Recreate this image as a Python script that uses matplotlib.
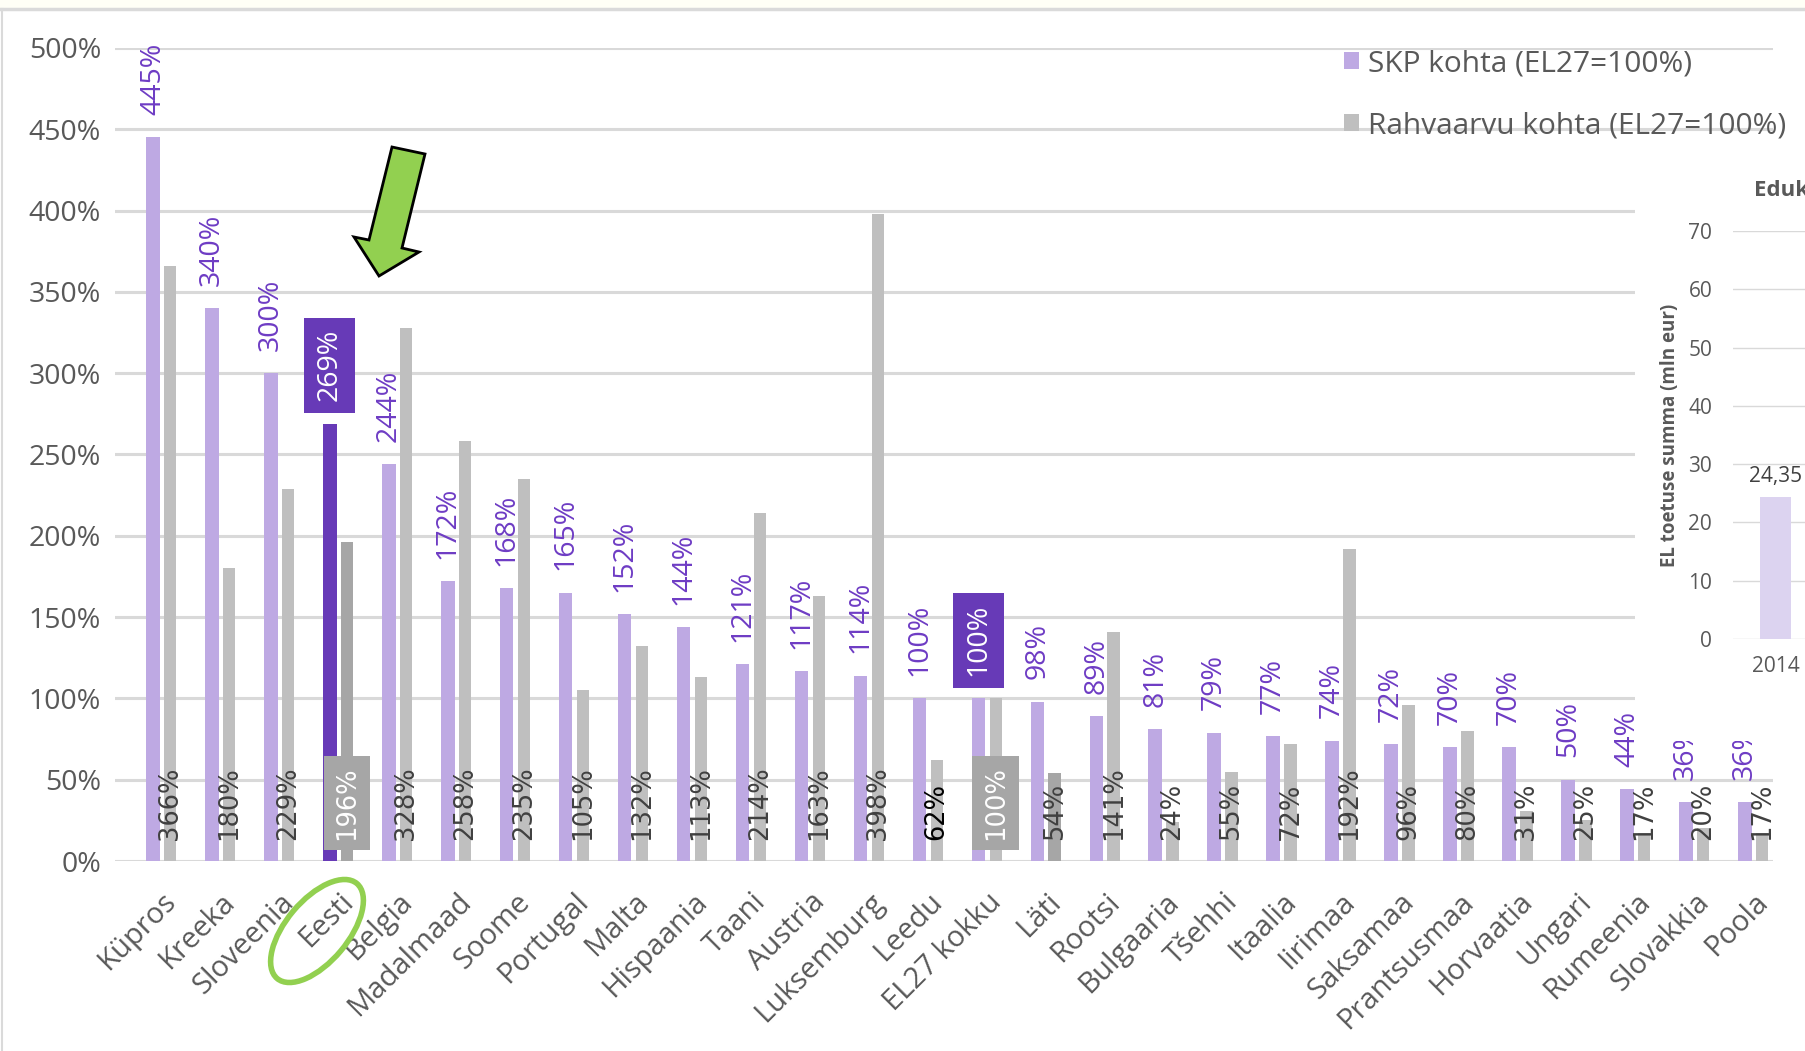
import numpy as np
import matplotlib.pyplot as plt
from matplotlib.patches import Rectangle, Polygon, Ellipse
from matplotlib.lines import Line2D
from matplotlib.transforms import IdentityTransform

plt.rcParams['font.family'] = ['Open Sans', 'DejaVu Sans']

# data
countries = ['Küpros', 'Kreeka', 'Sloveenia', 'Eesti', 'Belgia', 'Madalmaad', 'Soome',
             'Portugal', 'Malta', 'Hispaania', 'Taani', 'Austria', 'Luksemburg', 'Leedu',
             'EL27 kokku', 'Läti', 'Rootsi', 'Bulgaaria', 'Tšehhi', 'Itaalia', 'Iirimaa',
             'Saksamaa', 'Prantsusmaa', 'Horvaatia', 'Ungari', 'Rumeenia', 'Slovakkia', 'Poola']
skp_kohta = [445, 340, 300, 269, 244, 172, 168, 165, 152, 144, 121, 117, 114, 100,
             100, 98, 89, 81, 79, 77, 74, 72, 70, 70, 50, 44, 36, 36]
rahvaarvu_kohta = [366, 180, 229, 196, 328, 258, 235, 105, 132, 113, 214, 163, 398, 62,
                   100, 54, 141, 24, 55, 72, 192, 96, 80, 31, 25, 17, 20, 17]
series_names = ['SKP kohta (EL27=100%)', 'Rahvaarvu kohta (EL27=100%)']

inset_years = ['2014']
inset_values = [24.35]

# colours
c_skp = '#BEA9E3'
c_rahv = '#BFBFBF'
c_dark_purple = '#673AB7'
c_dark_gray = '#A6A6A6'
c_purple_text = '#6E3CC4'
c_text = '#595959'

W, H = 1805, 1051
fig = plt.figure(figsize=(W / 100, H / 100), dpi=100)
fig.patch.set_facecolor('white')

ax = fig.add_axes([115 / W, (H - 861) / H, (1773 - 115) / W, (861 - 48) / H])
x = np.arange(len(countries))
off, bw = 0.147, 0.23

skp_colors = [c_dark_purple if c == 'Eesti' else c_skp for c in countries]
rahv_colors = [c_dark_gray if c in ('Eesti', 'Läti') else c_rahv for c in countries]
ax.bar(x - off, skp_kohta, bw, color=skp_colors, zorder=2)
ax.bar(x + off, rahvaarvu_kohta, 0.21, color=rahv_colors, zorder=2)

boxed = ('Eesti', 'EL27 kokku')
for i, c in enumerate(countries):
    if c in boxed:
        ax.annotate(f'{skp_kohta[i]}%', (x[i] - off, skp_kohta[i]), xytext=(0, 16),
                    textcoords='offset points', rotation=90, ha='center', va='bottom',
                    fontsize=20.5, color='white', zorder=4,
                    bbox=dict(boxstyle='square,pad=0.4', fc=c_dark_purple, ec='none'))
        ax.annotate(f'{rahvaarvu_kohta[i]}%', (x[i] + off, 0), xytext=(0, 15),
                    textcoords='offset points', rotation=90, ha='center', va='bottom',
                    fontsize=18.5, color='white', family='DejaVu Sans', zorder=4,
                    bbox=dict(boxstyle='square,pad=0.4', fc=c_dark_gray, ec='none'))
    else:
        ax.annotate(f'{skp_kohta[i]}%', (x[i] - off, skp_kohta[i]), xytext=(0, 16),
                    textcoords='offset points', rotation=90, ha='center', va='bottom',
                    fontsize=20.5, color=c_purple_text, zorder=4)
        ax.annotate(f'{rahvaarvu_kohta[i]}%', (x[i] + off, 0), xytext=(0, 15),
                    textcoords='offset points', rotation=90, ha='center', va='bottom',
                    fontsize=18.5, family='DejaVu Sans', zorder=4,
                    color='black' if c == 'Leedu' else '#404040')

ax.set_xlim(-0.79, 27.33)
ax.set_ylim(0, 500)
ax.set_yticks(range(0, 501, 50))
ax.set_yticklabels([f'{v}%' for v in range(0, 501, 50)])
ax.yaxis.grid(True, color='#D9D9D9', lw=2.2)
ax.set_axisbelow(True)
for s in ax.spines.values():
    s.set_visible(False)
ax.tick_params(length=0, labelsize=20.5, labelcolor=c_text)
ax.tick_params(axis='y', pad=10)
ax.set_xticks(x)
ax.set_xticklabels(countries, rotation=45, ha='right', rotation_mode='anchor')
ax.tick_params(axis='x', pad=19, labelsize=21)

handles = [Rectangle((0, 0), 1, 1, fc=c_skp), Rectangle((0, 0), 1, 1, fc=c_rahv)]
ax.legend(handles, series_names, loc='upper left', bbox_to_anchor=(1344 / W, 1 - 49 / H),
          bbox_transform=fig.transFigure, frameon=False, fontsize=21.5, labelcolor=c_text,
          handlelength=0.5, handleheight=0.5, handletextpad=0.3, labelspacing=1.12,
          borderaxespad=0, borderpad=0)

# page frame
fig.add_artist(Rectangle((0, 1 - 8 / H), 1, 8 / H, transform=fig.transFigure,
                         fc='#FFFFF6', ec='none', zorder=1))
fig.add_artist(Line2D([0, 1], [1 - 9 / H] * 2, color='#DADADA', lw=2.5))
fig.add_artist(Line2D([2 / W] * 2, [0, 1 - 9 / H], color='#DADADA', lw=1.5))

# inset chart (cut off at the right edge)
fig.add_artist(Rectangle((1635 / W, (H - 741) / H), (W - 1635) / W, (741 - 161) / H,
                         transform=fig.transFigure, fc='white', ec='none', zorder=2))
axi = fig.add_axes([1733 / W, (H - 639) / H, 400 / W, (639 - 231) / H])
axi.set_zorder(3)
axi.patch.set_alpha(0)
axi.bar(np.arange(len(inset_years)), inset_values, 0.376, color='#DCD3F0', zorder=2)
for i, v in enumerate(inset_values):
    axi.annotate(f'{v:.2f}'.replace('.', ','), (i, v), xytext=(0, 7), textcoords='offset points',
                 ha='center', va='bottom', fontsize=15, color='#404040')
axi.set_xlim(-0.5, 4.206)
axi.set_ylim(0, 70)
axi.set_yticks(range(0, 71, 10))
axi.set_xticks(np.arange(len(inset_years)))
axi.set_xticklabels(inset_years)
axi.yaxis.grid(True, color='#D9D9D9', lw=1)
axi.set_axisbelow(True)
for s in axi.spines.values():
    s.set_visible(False)
axi.tick_params(length=0, labelsize=15, labelcolor=c_text)
axi.tick_params(axis='y', pad=15)
axi.tick_params(axis='x', pad=12)
fig.text(1754 / W, 1 - 190 / H, 'Eduk', fontsize=16, fontweight='bold', color=c_text,
         va='center', ha='left', zorder=4)
fig.text(1670 / W, 1 - 435 / H, 'EL toetuse summa (mln eur)', fontsize=13.5, fontweight='bold',
         color=c_text, rotation=90, ha='center', va='center', zorder=4)

# green arrow and circle
arrow = [(392, 147), (425, 154), (402, 248), (419, 252), (379, 276), (354, 237), (369, 240)]
fig.add_artist(Polygon([(px, H - py) for px, py in arrow], closed=True, fc='#92D050',
                       ec='black', lw=2, transform=IdentityTransform(), zorder=5))
fig.add_artist(Ellipse((317, H - 931), 124, 62, angle=50, fill=False, ec='#92D050', lw=4,
                       transform=IdentityTransform(), zorder=5))

fig.savefig('out.png', dpi=100)
